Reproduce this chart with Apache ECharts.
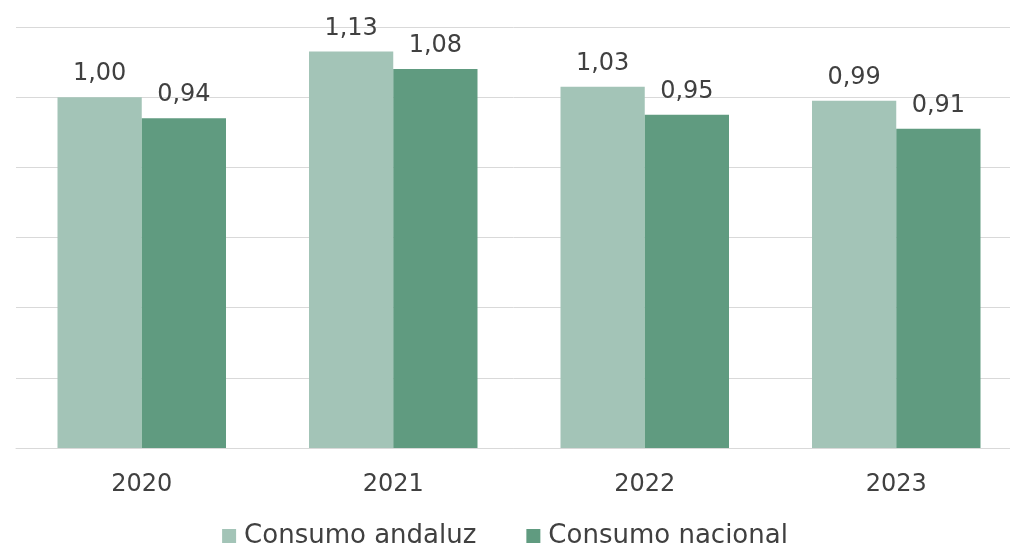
<!DOCTYPE html>
<html>
<head>
<meta charset="utf-8">
<script src="https://cdn.jsdelivr.net/npm/echarts@6/dist/echarts.min.js"></script>
<style>
html,body{margin:0;padding:0;background:#fff;}
#chart{width:1010px;height:548px;}
</style>
</head>
<body>
<div id="chart"></div>
<script>
const categories = ['2020', '2021', '2022', '2023'];
const consumoAndaluz = [1.00, 1.13, 1.03, 0.99];
const consumoNacional = [0.94, 1.08, 0.95, 0.91];
const seriesNames = ['Consumo andaluz', 'Consumo nacional'];

const FONT = '"DejaVu Sans", sans-serif';
const fmt = p => p.value.toFixed(2).replace('.', ',');

const chart = echarts.init(document.getElementById('chart'), null, {renderer: 'canvas'});
chart.setOption({
  animation: false,
  backgroundColor: '#ffffff',
  textStyle: {fontFamily: FONT},
  legend: {
    data: seriesNames,
    left: 'center',
    top: 518,
    itemWidth: 14,
    itemHeight: 14,
    itemGap: 50,
    icon: 'rect',
    textStyle: {fontFamily: FONT, fontSize: 26, color: '#404040', padding: [0, 0, 0, 3]}
  },
  grid: {left: 16, top: 27, width: 1006, height: 421, outerBoundsMode: 'none', containLabel: false},
  xAxis: {
    type: 'category',
    data: categories,
    axisLine: {lineStyle: {color: '#d9d9d9', width: 1}},
    axisTick: {show: false},
    axisLabel: {fontFamily: FONT, fontSize: 24, color: '#404040', margin: 25}
  },
  yAxis: {
    type: 'value',
    min: 0, max: 1.2, interval: 0.2,
    axisLabel: {show: false},
    axisLine: {show: false},
    axisTick: {show: false},
    splitLine: {lineStyle: {color: '#d9d9d9', width: 1}}
  },
  series: [
    {
      name: seriesNames[0],
      type: 'bar',
      data: consumoAndaluz,
      barGap: '0%',
      barCategoryGap: '33%',
      itemStyle: {color: '#a3c4b7'},
      label: {show: true, position: 'top', distance: 11, formatter: fmt, fontFamily: FONT, fontSize: 24, color: '#404040'}
    },
    {
      name: seriesNames[1],
      type: 'bar',
      data: consumoNacional,
      barGap: '0%',
      barCategoryGap: '33%',
      itemStyle: {color: '#609b80'},
      label: {show: true, position: 'top', distance: 11, formatter: fmt, fontFamily: FONT, fontSize: 24, color: '#404040'}
    }
  ]
});
</script>
</body>
</html>
